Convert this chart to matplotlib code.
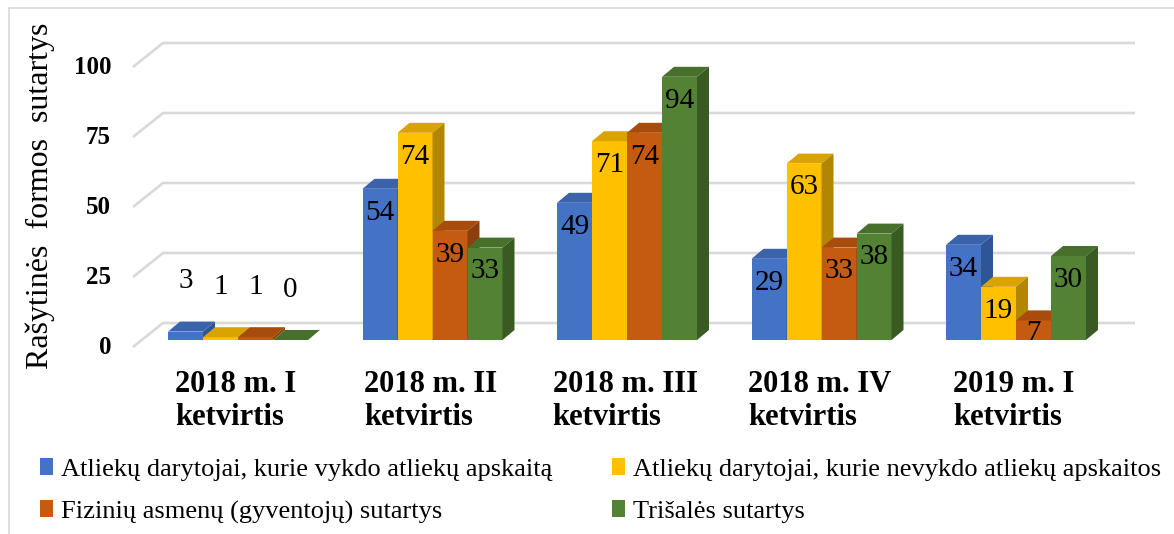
import matplotlib.pyplot as plt
from matplotlib.patches import Polygon
from matplotlib.lines import Line2D
import numpy as np

plt.rcParams['font.family'] = ['Liberation Serif', 'DejaVu Serif']

kvartalai = ['2018 m. I\nketvirtis', '2018 m. II\nketvirtis', '2018 m. III\nketvirtis',
             '2018 m. IV\nketvirtis', '2019 m. I\nketvirtis']
vykdo = [3, 54, 49, 29, 34]
nevykdo = [1, 74, 71, 63, 19]
fiziniai = [1, 39, 74, 33, 7]
trisales = [0, 33, 94, 38, 30]
serijos = ['Atliekų darytojai, kurie vykdo atliekų apskaitą',
           'Atliekų darytojai, kurie nevykdo atliekų apskaitos',
           'Fizinių asmenų (gyventojų) sutartys',
           'Trišalės sutartys']
y_ticks = [0, 25, 50, 75, 100]

# spalvos: priekis, virsus, sonas
spalvos = [('#4472C4', '#3B63AC', '#2F5597'),
           ('#FFC000', '#D9A400', '#B38600'),
           ('#C55A11', '#A84C0E', '#8A3F0C'),
           ('#548235', '#47702D', '#3A5A24')]

W, H = 1174, 534
X0, SX = 238.0, 194.5      # grupes 0 centras ir tarpas pikseliais
Y0, SY = 340.0, 2.8        # nulio lygis ir px vienam vienetui


def px_x(p):
    return (p - X0) / SX


def px_y(p):
    return (Y0 - p) / SY


fig = plt.figure(figsize=(W / 100, H / 100), dpi=100)
ax = fig.add_axes([0, 0, 1, 1])
ax.set_xlim(px_x(0), px_x(W))
ax.set_ylim(px_y(H), px_y(0))
ax.axis('off')

# tinklelis (galine siena + grindu istrizaine)
front_off, back_off = px_y(347), px_y(323)
for g in y_ticks:
    ax.plot([px_x(133), px_x(163), px_x(1135)],
            [g + front_off, g + back_off, g + back_off],
            color='#d9d9d9', lw=1.9, solid_capstyle='butt', zorder=1)
    ax.text(px_x(111), g + front_off, str(g), ha='right', va='center',
            fontsize=18, fontweight='bold')

bw = 35 / SX
dx = 12 / SX
dy = 10 / SY
x = np.arange(len(kvartalai))
duomenys = [vykdo, nevykdo, fiziniai, trisales]
handles = []

for gi in range(len(kvartalai)):
    for si, vals in enumerate(duomenys):
        v = vals[gi]
        left = x[gi] - 2 * bw + si * bw
        front, top, side = spalvos[si]
        b = ax.bar(left, v, width=bw, align='edge', color=front, lw=0, zorder=2)
        if gi == 0:
            handles.append(b)
        ax.add_patch(Polygon([(left, v), (left + bw, v), (left + bw + dx, v + dy),
                              (left + dx, v + dy)], closed=True, color=top, lw=0, zorder=2))
        ax.add_patch(Polygon([(left + bw, 0), (left + bw + dx, dy), (left + bw + dx, v + dy),
                              (left + bw, v)], closed=True, color=side, lw=0, zorder=2))
        if gi == 0:
            ly = v + 18
        else:
            ly = v - min(8.5, 0.65 * v)
        ax.text(left + bw / 2, ly, str(v), ha='center', va='center',
                fontsize=21, zorder=3)

for gi, lab in enumerate(kvartalai):
    ax.text(x[gi] - 0.01, px_y(401), lab, ha='center', va='center',
            multialignment='left', fontsize=22, fontweight='bold', linespacing=1.15)

fig.text(40 / W, 1 - 196 / H, 'Rašytinės  formos  sutartys', rotation=90,
         ha='center', va='center', fontsize=23)

# legenda eilutemis: [0, 1] virsuje, [2, 3] apacioje
order = [0, 2, 1, 3]
leg = fig.legend([handles[i] for i in order], [serijos[i] for i in order],
                 ncol=2, loc='upper left',
                 bbox_to_anchor=(40 / W, 1 - 458 / H), frameon=False,
                 fontsize=19, handlelength=0.5, handleheight=0.6,
                 handletextpad=0.3, columnspacing=2.25, labelspacing=0.75,
                 borderpad=0, borderaxespad=0)

# remelis
fig.add_artist(Line2D([9 / W, 9 / W], [0, 1 - 8 / H], color='#d9d9d9', lw=1.2))
fig.add_artist(Line2D([9 / W, 1], [1 - 8 / H, 1 - 8 / H], color='#d9d9d9', lw=1.2))

fig.savefig('out.png', dpi=100)
